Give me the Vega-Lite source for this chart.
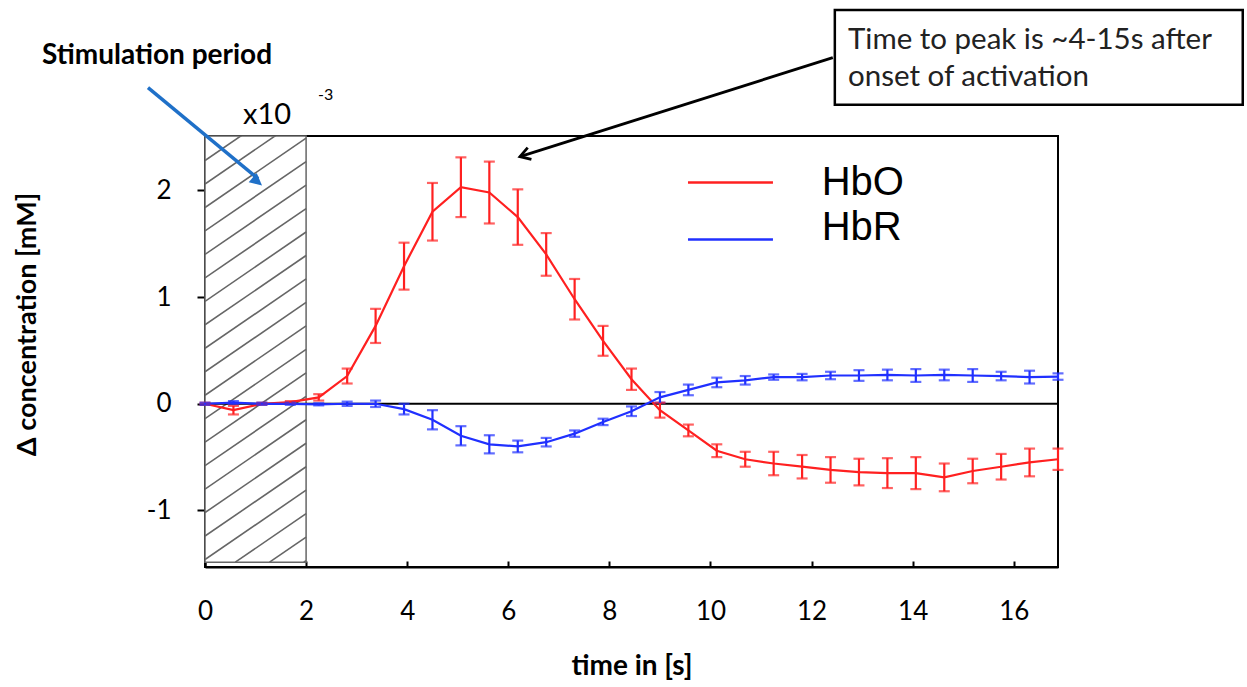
{
  "$schema": "https://vega.github.io/schema/vega-lite/v6.json",
  "width": 853,
  "height": 431,
  "autosize": "none",
  "padding": {"left": 205, "top": 136, "right": 189, "bottom": 120},
  "background": "white",
  "config": {"view": {"stroke": "black", "strokeWidth": 2}, "font": "Lato"},
  "datasets": {
    "series": [
      {"t": 0, "series": "HbO", "v": 0, "lo": -0.01, "hi": 0.01},
      {"t": 0.5625, "series": "HbO", "v": -0.06, "lo": -0.1, "hi": -0.02},
      {"t": 1.125, "series": "HbO", "v": 0.0, "lo": -0.01, "hi": 0.01},
      {"t": 1.6875, "series": "HbO", "v": 0.015, "lo": 0.005, "hi": 0.025},
      {"t": 2.25, "series": "HbO", "v": 0.06, "lo": 0.03, "hi": 0.09},
      {"t": 2.8125, "series": "HbO", "v": 0.26, "lo": 0.19, "hi": 0.33},
      {"t": 3.375, "series": "HbO", "v": 0.73, "lo": 0.57, "hi": 0.89},
      {"t": 3.9375, "series": "HbO", "v": 1.29, "lo": 1.07, "hi": 1.51},
      {"t": 4.5, "series": "HbO", "v": 1.8, "lo": 1.53, "hi": 2.07},
      {"t": 5.0625, "series": "HbO", "v": 2.03, "lo": 1.75, "hi": 2.31},
      {"t": 5.625, "series": "HbO", "v": 1.98, "lo": 1.69, "hi": 2.27},
      {"t": 6.1875, "series": "HbO", "v": 1.75, "lo": 1.49, "hi": 2.01},
      {"t": 6.75, "series": "HbO", "v": 1.4, "lo": 1.2, "hi": 1.6},
      {"t": 7.3125, "series": "HbO", "v": 0.98, "lo": 0.79, "hi": 1.17},
      {"t": 7.875, "series": "HbO", "v": 0.59, "lo": 0.45, "hi": 0.73},
      {"t": 8.4375, "series": "HbO", "v": 0.23, "lo": 0.13, "hi": 0.33},
      {"t": 9, "series": "HbO", "v": -0.06, "lo": -0.13, "hi": 0.01},
      {"t": 9.5625, "series": "HbO", "v": -0.25, "lo": -0.305, "hi": -0.195},
      {"t": 10.125, "series": "HbO", "v": -0.44, "lo": -0.5, "hi": -0.38},
      {"t": 10.6875, "series": "HbO", "v": -0.52, "lo": -0.59, "hi": -0.45},
      {"t": 11.25, "series": "HbO", "v": -0.56, "lo": -0.67, "hi": -0.45},
      {"t": 11.8125, "series": "HbO", "v": -0.59, "lo": -0.7, "hi": -0.48},
      {"t": 12.375, "series": "HbO", "v": -0.62, "lo": -0.74, "hi": -0.5},
      {"t": 12.9375, "series": "HbO", "v": -0.64, "lo": -0.765, "hi": -0.515},
      {"t": 13.5, "series": "HbO", "v": -0.65, "lo": -0.79, "hi": -0.51},
      {"t": 14.0625, "series": "HbO", "v": -0.65, "lo": -0.8, "hi": -0.5},
      {"t": 14.625, "series": "HbO", "v": -0.69, "lo": -0.82, "hi": -0.56},
      {"t": 15.1875, "series": "HbO", "v": -0.63, "lo": -0.745, "hi": -0.515},
      {"t": 15.75, "series": "HbO", "v": -0.59, "lo": -0.71, "hi": -0.47},
      {"t": 16.3125, "series": "HbO", "v": -0.55, "lo": -0.68, "hi": -0.42},
      {"t": 16.875, "series": "HbO", "v": -0.52, "lo": -0.62, "hi": -0.42},
      {"t": 0, "series": "HbR", "v": 0, "lo": -0.01, "hi": 0.01},
      {"t": 0.5625, "series": "HbR", "v": 0.01, "lo": -0.005, "hi": 0.025},
      {"t": 1.125, "series": "HbR", "v": 0.0, "lo": -0.01, "hi": 0.01},
      {"t": 1.6875, "series": "HbR", "v": 0.0, "lo": -0.01, "hi": 0.01},
      {"t": 2.25, "series": "HbR", "v": -0.005, "lo": -0.015, "hi": 0.005},
      {"t": 2.8125, "series": "HbR", "v": 0.0, "lo": -0.02, "hi": 0.02},
      {"t": 3.375, "series": "HbR", "v": 0.0, "lo": -0.03, "hi": 0.03},
      {"t": 3.9375, "series": "HbR", "v": -0.05, "lo": -0.1, "hi": 0.0},
      {"t": 4.5, "series": "HbR", "v": -0.15, "lo": -0.24, "hi": -0.06},
      {"t": 5.0625, "series": "HbR", "v": -0.3, "lo": -0.39, "hi": -0.21},
      {"t": 5.625, "series": "HbR", "v": -0.38, "lo": -0.465, "hi": -0.295},
      {"t": 6.1875, "series": "HbR", "v": -0.4, "lo": -0.455, "hi": -0.345},
      {"t": 6.75, "series": "HbR", "v": -0.36, "lo": -0.4, "hi": -0.32},
      {"t": 7.3125, "series": "HbR", "v": -0.28, "lo": -0.31, "hi": -0.25},
      {"t": 7.875, "series": "HbR", "v": -0.17, "lo": -0.2, "hi": -0.14},
      {"t": 8.4375, "series": "HbR", "v": -0.07, "lo": -0.115, "hi": -0.025},
      {"t": 9, "series": "HbR", "v": 0.06, "lo": 0.01, "hi": 0.11},
      {"t": 9.5625, "series": "HbR", "v": 0.13, "lo": 0.08, "hi": 0.18},
      {"t": 10.125, "series": "HbR", "v": 0.2, "lo": 0.155, "hi": 0.245},
      {"t": 10.6875, "series": "HbR", "v": 0.22, "lo": 0.18, "hi": 0.26},
      {"t": 11.25, "series": "HbR", "v": 0.25, "lo": 0.225, "hi": 0.275},
      {"t": 11.8125, "series": "HbR", "v": 0.25, "lo": 0.22, "hi": 0.28},
      {"t": 12.375, "series": "HbR", "v": 0.265, "lo": 0.23, "hi": 0.3},
      {"t": 12.9375, "series": "HbR", "v": 0.265, "lo": 0.215, "hi": 0.315},
      {"t": 13.5, "series": "HbR", "v": 0.27, "lo": 0.22, "hi": 0.32},
      {"t": 14.0625, "series": "HbR", "v": 0.265, "lo": 0.205, "hi": 0.325},
      {"t": 14.625, "series": "HbR", "v": 0.27, "lo": 0.22, "hi": 0.32},
      {"t": 15.1875, "series": "HbR", "v": 0.265, "lo": 0.205, "hi": 0.325},
      {"t": 15.75, "series": "HbR", "v": 0.26, "lo": 0.22, "hi": 0.3},
      {"t": 16.3125, "series": "HbR", "v": 0.25, "lo": 0.19, "hi": 0.31},
      {"t": 16.875, "series": "HbR", "v": 0.255, "lo": 0.225, "hi": 0.285}
    ],
    "hatch": [
      {"t": 1.954, "v": -1.485, "t2": 2, "v2": -1.47},
      {"t": 1.277, "v": -1.485, "t2": 2, "v2": -1.25},
      {"t": 0.6, "v": -1.485, "t2": 2, "v2": -1.03},
      {"t": 0, "v": -1.46, "t2": 2, "v2": -0.81},
      {"t": 0, "v": -1.24, "t2": 2, "v2": -0.59},
      {"t": 0, "v": -1.02, "t2": 2, "v2": -0.37},
      {"t": 0, "v": -0.8, "t2": 2, "v2": -0.15},
      {"t": 0, "v": -0.58, "t2": 2, "v2": 0.07},
      {"t": 0, "v": -0.36, "t2": 2, "v2": 0.29},
      {"t": 0, "v": -0.14, "t2": 2, "v2": 0.51},
      {"t": 0, "v": 0.08, "t2": 2, "v2": 0.73},
      {"t": 0, "v": 0.3, "t2": 2, "v2": 0.95},
      {"t": 0, "v": 0.52, "t2": 2, "v2": 1.17},
      {"t": 0, "v": 0.74, "t2": 2, "v2": 1.39},
      {"t": 0, "v": 0.96, "t2": 2, "v2": 1.61},
      {"t": 0, "v": 1.18, "t2": 2, "v2": 1.83},
      {"t": 0, "v": 1.4, "t2": 2, "v2": 2.05},
      {"t": 0, "v": 1.62, "t2": 2, "v2": 2.27},
      {"t": 0, "v": 1.84, "t2": 2, "v2": 2.49},
      {"t": 0, "v": 2.06, "t2": 2, "v2": 2.71},
      {"t": 0, "v": 2.28, "t2": 2, "v2": 2.93},
      {"t": 0, "v": 2.5, "t2": 2, "v2": 3.15}
    ]
  },
  "layer": [
    {
      "data": {"values": [{"t": 0, "t2": 2, "v": -1.485, "v2": 2.51}]},
      "mark": {"type": "rect", "fill": "white", "stroke": "#666666", "strokeWidth": 1.5},
      "encoding": {
        "x": {"field": "t", "type": "quantitative", "scale": {"domain": [0, 16.875], "nice": false, "zero": false},
          "axis": {"values": [0, 2, 4, 6, 8, 10, 12, 14, 16], "title": "time in [s]", "grid": false,
            "labelExpr": "'' + datum.value",
            "labelFont": "Lato", "labelFontSize": 26, "labelColor": "black", "labelPadding": 37, "labelFlush": false,
            "tickSize": -6, "tickColor": "black", "tickWidth": 2, "domainColor": "black", "domainWidth": 2,
            "titleFont": "Lato", "titleFontSize": 28, "titleFontWeight": "bold", "titleColor": "black",
            "titleY": 85, "titleBaseline": "top"}},
        "x2": {"field": "t2"},
        "y": {"field": "v", "type": "quantitative", "scale": {"domain": [-1.53, 2.51], "nice": false, "zero": false},
          "axis": {"values": [-1, 0, 1, 2], "title": "Δ concentration [mM]", "grid": false,
            "labelExpr": "'' + datum.value",
            "labelFont": "Lato", "labelFontSize": 26, "labelColor": "black", "labelPadding": 26,
            "tickSize": 8, "tickColor": "black", "tickWidth": 2, "domainColor": "black", "domainWidth": 2,
            "titleFont": "Lato", "titleFontSize": 27, "titleFontWeight": "bold", "titleColor": "black",
            "titleX": -178, "titleY": 188, "titleAngle": -90, "titleBaseline": "middle", "titleAlign": "center"}},
        "y2": {"field": "v2"}
      }
    },
    {
      "data": {"name": "hatch"},
      "mark": {"type": "rule", "stroke": "#666666", "strokeWidth": 1.6, "clip": true},
      "encoding": {
        "x": {"field": "t", "type": "quantitative"},
        "x2": {"field": "t2"},
        "y": {"field": "v", "type": "quantitative"},
        "y2": {"field": "v2"}
      }
    },
    {
      "data": {"values": [{"v": 0}]},
      "mark": {"type": "rule", "stroke": "black", "strokeWidth": 2},
      "encoding": {"y": {"field": "v", "type": "quantitative"}}
    },
    {
      "data": {"name": "series"},
      "mark": {"type": "line", "strokeWidth": 2.2},
      "encoding": {
        "x": {"field": "t", "type": "quantitative"},
        "y": {"field": "v", "type": "quantitative"},
        "color": {"field": "series", "type": "nominal", "scale": {"domain": ["HbO", "HbR"], "range": ["#ff2020", "#2030ff"]}, "legend": null}
      }
    },
    {
      "data": {"name": "series"},
      "mark": {"type": "errorbar", "ticks": {"size": 11}, "thickness": 2.2},
      "encoding": {
        "x": {"field": "t", "type": "quantitative"},
        "y": {"field": "lo", "type": "quantitative", "title": "Δ concentration [mM]"},
        "y2": {"field": "hi"},
        "color": {"field": "series", "type": "nominal"}
      }
    },
    {
      "data": {"values": [
        {"series": "HbO", "t": 9.555, "t2": 11.236, "v": 2.073},
        {"series": "HbR", "t": 9.555, "t2": 11.236, "v": 1.539}
      ]},
      "mark": {"type": "rule", "strokeWidth": 2.5},
      "encoding": {
        "x": {"field": "t", "type": "quantitative"},
        "x2": {"field": "t2"},
        "y": {"field": "v", "type": "quantitative"},
        "color": {"field": "series", "type": "nominal"}
      }
    },
    {
      "data": {"values": [
        {"label": "HbO", "t": 12.2, "v": 2.073},
        {"label": "HbR", "t": 12.2, "v": 1.651}
      ]},
      "mark": {"type": "text", "font": "Liberation Sans", "fontSize": 40, "align": "left", "baseline": "middle", "color": "black"},
      "encoding": {
        "x": {"field": "t", "type": "quantitative"},
        "y": {"field": "v", "type": "quantitative"},
        "text": {"field": "label"}
      }
    },
    {
      "data": {"values": [{"label": "Stimulation period", "t": -3.225, "v": 3.264}]},
      "mark": {"type": "text", "font": "Lato", "fontSize": 28, "fontWeight": "bold", "align": "left", "baseline": "middle", "color": "black"},
      "encoding": {
        "x": {"field": "t", "type": "quantitative"},
        "y": {"field": "v", "type": "quantitative"},
        "text": {"field": "label"}
      }
    },
    {
      "data": {"values": [{"label": "x10", "t": 0.752, "v": 2.71}]},
      "mark": {"type": "text", "font": "Lato", "fontSize": 29, "align": "left", "baseline": "middle", "color": "black"},
      "encoding": {
        "x": {"field": "t", "type": "quantitative"},
        "y": {"field": "v", "type": "quantitative"},
        "text": {"field": "label"}
      }
    },
    {
      "data": {"values": [{"label": "-3", "t": 2.235, "v": 2.897}]},
      "mark": {"type": "text", "font": "Lato", "fontSize": 16, "align": "left", "baseline": "middle", "color": "black"},
      "encoding": {
        "x": {"field": "t", "type": "quantitative"},
        "y": {"field": "v", "type": "quantitative"},
        "text": {"field": "label"}
      }
    },
    {
      "data": {"values": [{"t": 12.46, "t2": 20.53, "v": 3.691, "v2": 2.804}]},
      "mark": {"type": "rect", "fill": "white", "stroke": "black", "strokeWidth": 2.5},
      "encoding": {
        "x": {"field": "t", "type": "quantitative"},
        "x2": {"field": "t2"},
        "y": {"field": "v", "type": "quantitative"},
        "y2": {"field": "v2"}
      }
    },
    {
      "data": {"values": [
        {"label": "Time to peak is ~4-15s after", "t": 12.72, "v": 3.413},
        {"label": "onset of activation", "t": 12.72, "v": 3.066}
      ]},
      "mark": {"type": "text", "font": "Lato", "fontSize": 29.5, "align": "left", "baseline": "middle", "color": "#222"},
      "encoding": {
        "x": {"field": "t", "type": "quantitative"},
        "y": {"field": "v", "type": "quantitative"},
        "text": {"field": "label"}
      }
    },
    {
      "data": {"values": [{"t": 12.42, "v": 3.244, "t2": 6.231, "v2": 2.317}]},
      "mark": {"type": "rule", "stroke": "black", "strokeWidth": 2.8},
      "encoding": {
        "x": {"field": "t", "type": "quantitative"},
        "x2": {"field": "t2"},
        "y": {"field": "v", "type": "quantitative"},
        "y2": {"field": "v2"}
      }
    },
    {
      "data": {"values": [{"t": 6.231, "v": 2.317}]},
      "mark": {"type": "point", "shape": "M-0.55,0.9L0,0L0.55,0.9", "filled": false, "stroke": "black", "strokeWidth": 2.8, "size": 500, "angle": 252.4, "opacity": 1},
      "encoding": {
        "x": {"field": "t", "type": "quantitative"},
        "y": {"field": "v", "type": "quantitative"}
      }
    },
    {
      "data": {"values": [{"t": -1.128, "v": 2.963, "t2": 1.05, "v2": 2.11}]},
      "mark": {"type": "rule", "stroke": "#1f70c8", "strokeWidth": 3.5},
      "encoding": {
        "x": {"field": "t", "type": "quantitative"},
        "x2": {"field": "t2"},
        "y": {"field": "v", "type": "quantitative"},
        "y2": {"field": "v2"}
      }
    },
    {
      "data": {"values": [{"t": 1.128, "v": 2.045}]},
      "mark": {"type": "point", "shape": "M0,0L-0.55,1.1L0.55,1.1Z", "filled": true, "fill": "#1f70c8", "size": 500, "angle": 130.7, "opacity": 1},
      "encoding": {
        "x": {"field": "t", "type": "quantitative"},
        "y": {"field": "v", "type": "quantitative"}
      }
    }
  ]
}
